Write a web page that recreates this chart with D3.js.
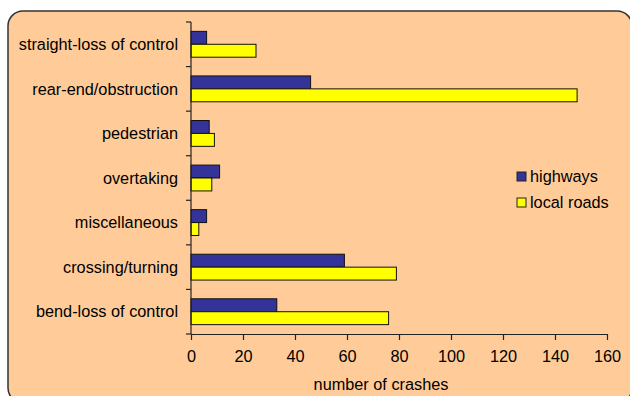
<!DOCTYPE html>
<html>
<head>
<meta charset="utf-8">
<script src="https://cdn.jsdelivr.net/npm/d3@7"></script>
<style>
  html, body { margin: 0; padding: 0; background: #ffffff; }
  svg { display: block; }
  text { font-family: "Liberation Sans", Arial, sans-serif; fill: #000; }
</style>
</head>
<body>
<svg id="chart" width="630" height="396"></svg>
<script>
// Crash types, listed top to bottom
const categories = [
  "straight-loss of control",
  "rear-end/obstruction",
  "pedestrian",
  "overtaking",
  "miscellaneous",
  "crossing/turning",
  "bend-loss of control"
];
const seriesNames = ["highways", "local roads"];
const highways   = [6, 46, 7, 11, 6, 59, 33];
const localRoads = [25, 148.5, 9, 8, 3, 79, 76];
const xTicks = [0, 20, 40, 60, 80, 100, 120, 140, 160];
const colors = ["#333399", "#FFFF00"];

const svg = d3.select("#chart");
const fontSize = 16.3;

// Rounded chart frame
svg.append("rect")
  .attr("x", 8).attr("y", 11)
  .attr("width", 624).attr("height", 392)
  .attr("rx", 15).attr("ry", 15)
  .attr("fill", "#FFCC99")
  .attr("stroke", "#333333")
  .attr("stroke-width", 1.5);

const plot = { left: 191, right: 607, top: 22, bottom: 334 };

const x = d3.scaleLinear().domain([0, 160]).range([plot.left, plot.right]);
const y = d3.scaleBand().domain(categories)
  .range([plot.top, plot.bottom])
  .paddingInner(0.42).paddingOuter(0.21);
const ySub = d3.scaleBand().domain(seriesNames).range([0, y.bandwidth()]);

const rows = categories.map((c, i) => ({ cat: c, values: [highways[i], localRoads[i]] }));

// Bars
const groups = svg.append("g").selectAll("g")
  .data(rows).join("g")
  .attr("transform", d => `translate(0,${y(d.cat)})`);

groups.selectAll("rect")
  .data(d => d.values.map((v, j) => ({ v, s: seriesNames[j], j })))
  .join("rect")
  .attr("x", x(0))
  .attr("y", d => ySub(d.s))
  .attr("width", d => x(d.v) - x(0))
  .attr("height", ySub.bandwidth())
  .attr("fill", d => colors[d.j])
  .attr("stroke", "#111")
  .attr("stroke-width", 1);

// Category axis: ticks sit between bands
const yAxis = svg.append("g");
yAxis.append("line")
  .attr("x1", plot.left).attr("x2", plot.left)
  .attr("y1", plot.top).attr("y2", plot.bottom)
  .attr("stroke", "#222").attr("stroke-width", 1.2);
const boundaries = d3.range(categories.length + 1)
  .map(i => plot.top + i * y.step());
yAxis.selectAll("line.tick").data(boundaries).join("line")
  .attr("class", "tick")
  .attr("x1", plot.left - 5).attr("x2", plot.left)
  .attr("y1", d => d).attr("y2", d => d)
  .attr("stroke", "#222").attr("stroke-width", 1.2);
yAxis.selectAll("text").data(categories).join("text")
  .attr("x", plot.left - 13)
  .attr("y", d => y(d) + y.bandwidth() / 2)
  .attr("dy", "0.35em")
  .attr("text-anchor", "end")
  .attr("font-size", fontSize)
  .text(d => d);

// Value axis
const xAxis = svg.append("g")
  .attr("transform", `translate(0,${plot.bottom})`)
  .call(d3.axisBottom(x).tickValues(xTicks).tickSize(6).tickPadding(10).tickSizeOuter(0));
xAxis.select(".domain").attr("stroke", "#222").attr("stroke-width", 1.2);
xAxis.selectAll(".tick line").attr("stroke", "#222").attr("stroke-width", 1.2);
xAxis.selectAll(".tick text")
  .attr("font-size", fontSize)
  .attr("font-family", "Liberation Sans, Arial, sans-serif")
  .attr("fill", "#000");

svg.append("text")
  .attr("x", (plot.left + plot.right) / 2 - 18)
  .attr("y", 390)
  .attr("text-anchor", "middle")
  .attr("font-size", fontSize)
  .text("number of crashes");

// Legend
const legend = svg.append("g").attr("transform", "translate(517,172)");
const items = legend.selectAll("g").data(seriesNames).join("g")
  .attr("transform", (d, i) => `translate(0,${i * 26})`);
items.append("rect")
  .attr("width", 9).attr("height", 9)
  .attr("fill", (d, i) => colors[i])
  .attr("stroke", "#222").attr("stroke-width", 1);
items.append("text")
  .attr("x", 13).attr("y", 4.5).attr("dy", "0.35em")
  .attr("font-size", fontSize)
  .text(d => d);
</script>
</body>
</html>
